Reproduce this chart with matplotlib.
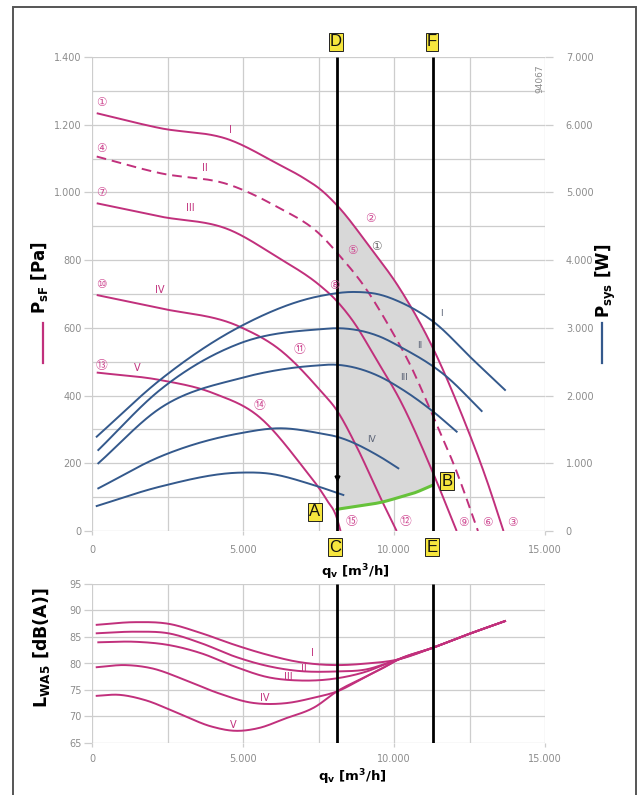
import numpy as np
import matplotlib
matplotlib.use('Agg')
import matplotlib.pyplot as plt
from matplotlib import font_manager
from matplotlib.ticker import FuncFormatter, MultipleLocator
from matplotlib.patches import Rectangle
from matplotlib.lines import Line2D

# ---------------- data ----------------
# fan pressure curves, q_v [m3/h] vs p_sF [Pa]
pI_x = [156, 2251, 4569, 6115, 7053, 7549, 8112, 9205, 10198, 11291, 12284, 13078, 13625]
pI_y = [1234, 1190, 1155, 1086, 1040, 1010, 962, 838, 715, 540, 335, 148, 0]
pII_x = [156, 2251, 4569, 6115, 7549, 8211, 8973, 9867, 10529, 11300, 12075, 12780]
pII_y = [1106, 1057, 1022, 958, 876, 812, 728, 600, 492, 338, 175, 0]
pIII_x = [156, 2251, 4569, 6115, 7549, 7990, 8642, 9426, 10198, 11300, 12075]
pIII_y = [968, 929, 889, 810, 725, 690, 620, 505, 387, 170, 0]
pIV_x = [156, 2251, 4900, 6225, 7549, 8102, 8764, 9536, 10088]
pIV_y = [697, 658, 603, 535, 416, 357, 249, 101, 0]
pV_x = [156, 2251, 4017, 5563, 6887, 7771, 8102, 8230]
pV_y = [468, 446, 407, 335, 200, 92, 40, 0]

# system power curves, q_v [m3/h] vs P_sys [W]
wI_x = [156, 2251, 4900, 7549, 8700, 9536, 10198, 11300, 12625, 13675]
wI_y = [1393, 2230, 3018, 3470, 3530, 3490, 3382, 3092, 2526, 2083]
wII_x = [209, 2251, 4900, 7549, 8212, 9536, 10198, 11743, 12902]
wII_y = [1196, 2083, 2772, 2979, 2994, 2870, 2722, 2279, 1772]
wIII_x = [209, 2251, 4900, 7328, 8102, 9536, 10198, 11300, 12075]
wIII_y = [1000, 1812, 2255, 2440, 2455, 2279, 2112, 1762, 1467]
wIV_x = [209, 2251, 4900, 6225, 7549, 8102, 9536, 10143]
wIV_y = [630, 1097, 1443, 1517, 1443, 1393, 1097, 926]
wV_x = [156, 2251, 4900, 5784, 7328, 8322]
wV_y = [369, 655, 862, 852, 680, 532]

# green boundary A-B  [W]
g_x = [8100, 9000, 9536, 10198, 10638, 11300]
g_y = [320, 380, 420, 500, 557, 680]

# operating limits (C-D and E-F)
line_x = [8100, 11300]

# sound power level curves, q_v [m3/h] vs L_WA5 [dB(A)]
lI_x = [156, 1424, 2526, 3632, 4735, 5837, 6831, 8102, 9095, 10088, 11300, 12400, 13675]
lI_y = [87.3, 87.8, 87.5, 85.7, 83.5, 81.6, 80.3, 79.7, 80.0, 80.7, 83.0, 85.4, 88.0]
lII_x = [156, 1424, 2526, 3632, 4735, 5837, 6831, 8102, 9095, 9900, 11300, 12400, 13675]
lII_y = [85.7, 86.0, 85.7, 83.8, 81.3, 79.5, 78.6, 78.5, 78.9, 80.3, 83.0, 85.4, 88.0]
lIII_x = [209, 1424, 2526, 3632, 4735, 5837, 6831, 8102, 9095, 9900, 11300, 12400, 13675]
lIII_y = [84.0, 84.1, 83.5, 81.9, 79.4, 77.4, 76.8, 77.2, 78.5, 80.3, 83.0, 85.4, 88.0]
lIV_x = [156, 1093, 1976, 3079, 4183, 5287, 6390, 7384, 8102, 9095, 9646, 10088, 11300, 12400, 13675]
lIV_y = [79.3, 79.7, 79.1, 76.9, 74.4, 72.6, 72.5, 73.6, 74.7, 77.6, 79.2, 80.6, 83.0, 85.4, 88.0]
lV_x = [156, 872, 1755, 2858, 3962, 4735, 5506, 6390, 7384, 8102, 9095, 9646, 10088, 11300, 12400, 13675]
lV_y = [73.9, 74.1, 73.1, 70.6, 68.1, 67.3, 67.8, 69.6, 71.8, 74.7, 77.6, 79.2, 80.6, 83.0, 85.4, 88.0]

roman = ['I', 'II', 'III', 'IV', 'V']
x_ticks = [0, 5000, 10000, 15000]
p_ticks = [0, 200, 400, 600, 800, 1000, 1200, 1400]
w_ticks = [0, 1000, 2000, 3000, 4000, 5000, 6000, 7000]
l_ticks = [65, 70, 75, 80, 85, 90, 95]

# ---------------- style ----------------
names = {f.name for f in font_manager.fontManager.ttflist}
FAM = 'Liberation Sans Narrow' if 'Liberation Sans Narrow' in names else 'DejaVu Sans'
NARROW = FAM != 'DejaVu Sans'
plt.rcParams['font.family'] = [FAM, 'DejaVu Sans']
plt.rcParams['mathtext.fontset'] = 'custom'
plt.rcParams['mathtext.rm'] = FAM
plt.rcParams['mathtext.bf'] = FAM + ':bold'
plt.rcParams['mathtext.it'] = FAM + ':italic'

MAG = '#c1307c'
BLUE = '#34598c'
GREEN = '#66c23a'
GRID = '#cdcdcd'
TICKC = '#8c8c8c'
YEL = '#f6e63e'
GRAYFILL = '#d8d8d8'

W, H = 642, 795


def fx(px):
    return px / W


def fy(py):
    return 1 - py / H


def smooth(x, y, n=300):
    """Cubic Hermite curve with three-point slopes through the read points (drawing only)."""
    x = np.asarray(x, float)
    y = np.asarray(y, float)
    h = np.diff(x)
    d = np.diff(y) / h
    m = np.zeros(len(x))
    m[0], m[-1] = d[0], d[-1]
    for k in range(1, len(x) - 1):
        m[k] = (d[k - 1] * h[k] + d[k] * h[k - 1]) / (h[k - 1] + h[k])
    xs = np.linspace(x[0], x[-1], n)
    idx = np.clip(np.searchsorted(x, xs) - 1, 0, len(x) - 2)
    t = (xs - x[idx]) / h[idx]
    h00 = 2 * t**3 - 3 * t**2 + 1
    h10 = t**3 - 2 * t**2 + t
    h01 = -2 * t**3 + 3 * t**2
    h11 = t**3 - t**2
    ys = h00 * y[idx] + h10 * h[idx] * m[idx] + h01 * y[idx + 1] + h11 * h[idx] * m[idx + 1]
    return xs, ys


def thousands(v, pos):
    return f'{int(round(v)):,}'.replace(',', '.')


fig = plt.figure(figsize=(W / 100, H / 100), dpi=100)

# outer frame
fig.add_artist(Rectangle((fx(13), fy(810)), fx(636) - fx(13), fy(7) - fy(810),
                         transform=fig.transFigure, fill=False, ec='#555555', lw=1.4))

# ---------------- top chart ----------------
ax = fig.add_axes([fx(92), fy(531), fx(545) - fx(92), fy(57) - fy(531)])
ax.set_xlim(0, 15000)
ax.set_ylim(0, 1400)
ax2 = ax.twinx()
ax2.set_ylim(0, 7000)
for a in (ax, ax2):
    for s in a.spines.values():
        s.set_visible(False)
ax.set_axisbelow(True)
ax.set_xticks(x_ticks)
ax.xaxis.set_minor_locator(MultipleLocator(2500))
ax.set_yticks(p_ticks)
ax.yaxis.set_minor_locator(MultipleLocator(100))
ax2.set_yticks(w_ticks)
ax.grid(True, which='both', color=GRID, lw=0.9)
lsz = 7.8 if NARROW else 7
ax.xaxis.set_major_formatter(FuncFormatter(thousands))
ax.yaxis.set_major_formatter(FuncFormatter(thousands))
ax2.yaxis.set_major_formatter(FuncFormatter(thousands))
ax.tick_params(axis='y', which='major', length=6, width=0.9, color=GRID,
               labelsize=lsz, labelcolor=TICKC, pad=1.5)
ax.tick_params(axis='x', which='major', length=3, width=0.9, color=GRID,
               labelsize=lsz, labelcolor=TICKC, pad=7)
ax.tick_params(which='minor', length=0)
ax2.tick_params(axis='y', which='major', length=6, width=0.9, color=GRID,
                labelsize=lsz, labelcolor=TICKC, pad=9)

# grey operating area
xs = np.linspace(line_x[0], line_x[1], 200)
sx, sy = smooth(pI_x, pI_y, 600)
upper = np.interp(xs, sx, sy)
gx, gy = smooth(g_x, g_y, 200)
lower = np.interp(xs, gx, gy) / 5.0
ax.fill_between(xs, lower, upper, color=GRAYFILL, lw=0, zorder=1)

# pressure curves
for (cx, cy), ls in zip([(pI_x, pI_y), (pII_x, pII_y), (pIII_x, pIII_y),
                          (pIV_x, pIV_y), (pV_x, pV_y)],
                         ['-', (0, (5, 3)), '-', '-', '-']):
    X, Y = smooth(cx, cy)
    ax.plot(X, Y, color=MAG, lw=1.4, ls=ls, zorder=3, solid_capstyle='butt')

# power curves
for cx, cy in [(wI_x, wI_y), (wII_x, wII_y), (wIII_x, wIII_y), (wIV_x, wIV_y), (wV_x, wV_y)]:
    X, Y = smooth(cx, cy)
    ax2.plot(X, Y, color=BLUE, lw=1.4, zorder=3)

X, Y = smooth(g_x, g_y)
ax2.plot(X, Y, color=GREEN, lw=2.2, zorder=4, solid_capstyle='round')
ax2.vlines(line_x, 0, 7000, colors='k', lw=2.0, zorder=6)
ax2.plot([line_x[0]], [790], marker='v', ms=3.5, color='k', zorder=7)

# ---------------- bottom chart ----------------
axb = fig.add_axes([fx(92), fy(743), fx(545) - fx(92), fy(584) - fy(743)])
axb.set_xlim(0, 15000)
axb.set_ylim(65, 95)
for s in axb.spines.values():
    s.set_visible(False)
axb.set_axisbelow(True)
axb.set_xticks(x_ticks)
axb.xaxis.set_minor_locator(MultipleLocator(2500))
axb.set_yticks(l_ticks)
axb.grid(True, which='both', color=GRID, lw=0.9)
axb.xaxis.set_major_formatter(FuncFormatter(thousands))
axb.tick_params(axis='y', which='major', length=6, width=0.9, color=GRID,
                labelsize=lsz, labelcolor=TICKC, pad=1.5)
axb.tick_params(axis='x', which='major', length=3, width=0.9, color=GRID,
                labelsize=lsz, labelcolor=TICKC, pad=5)
axb.tick_params(which='minor', length=0)
for cx, cy in [(lV_x, lV_y), (lIV_x, lIV_y), (lIII_x, lIII_y), (lII_x, lII_y), (lI_x, lI_y)]:
    X, Y = smooth(cx, cy)
    axb.plot(X, Y, color=MAG, lw=1.4, zorder=3)
axb.vlines(line_x, 65, 95, colors='k', lw=2.0, zorder=6)

# ---------------- annotations ----------------
CIRC = ['①', '②', '③', '④', '⑤', '⑥', '⑦', '⑧', '⑨', '⑩', '⑪', '⑫', '⑬', '⑭', '⑮']
circ_pos = [(101, 103), (370, 218), (512, 522), (101, 148), (352, 250), (487, 522),
            (101, 193), (334, 286), (463, 522), (101, 285), (300, 349), (406, 522),
            (101, 365), (260, 406), (351, 522)]
for s, (px, py) in zip(CIRC, circ_pos):
    fig.text(fx(px), fy(py), s, color='#cf4b93', fontsize=8.5, ha='center', va='center',
             family=['DejaVu Sans', 'Noto Sans CJK JP'])
fig.text(fx(376), fy(246), '①', color='#666666', fontsize=8.5, ha='center', va='center',
         family=['DejaVu Sans', 'Noto Sans CJK JP'])

rsz = 7.5 if NARROW else 7
for s, (px, py) in zip(roman, [(230, 130), (205, 168), (190, 208), (160, 290), (137, 368)]):
    fig.text(fx(px), fy(py), s, color=MAG, fontsize=rsz, ha='center', va='center')
for s, (px, py) in zip(roman[:4], [(441, 313), (420, 346), (404, 378), (371, 440)]):
    fig.text(fx(px), fy(py), s, color='#5a6275', fontsize=rsz - 0.5, ha='center', va='center')
for s, (px, py) in zip(roman, [(312, 653), (304, 669), (288, 677), (265, 698), (233, 725)]):
    fig.text(fx(px), fy(py), s, color=MAG, fontsize=rsz, ha='center', va='center')

fig.text(fx(540), fy(79), '94067', color='#8c8c8c', fontsize=6.5, rotation=90,
         ha='center', va='center')

for s, (px, py) in zip(['D', 'F', 'A', 'B', 'C', 'E'],
                       [(336, 42), (432, 42), (315, 512), (447, 481), (335, 547), (432, 547)]):
    fig.text(fx(px), fy(py), s, fontsize=13 if NARROW else 12, ha='center', va='center',
             color='#111111', family=['Liberation Sans', 'DejaVu Sans'],
             bbox=dict(boxstyle='square,pad=0.08', fc=YEL, ec='#222222', lw=0.7), zorder=10)

big = 15 if NARROW else 12
mid = 12 if NARROW else 9.5
fig.text(fx(40), fy(278), r'P$_\mathbf{sF}$ [Pa]', rotation=90, fontsize=big,
         fontweight='bold', ha='center', va='center')
fig.add_artist(Line2D([fx(43), fx(43)], [fy(323), fy(363)], color=MAG, lw=1.6))
fig.text(fx(606), fy(281), r'P$_\mathbf{sys}$ [W]', rotation=90, fontsize=big,
         fontweight='bold', ha='center', va='center')
fig.add_artist(Line2D([fx(602), fx(602)], [fy(323), fy(363)], color=BLUE, lw=1.6))
fig.text(fx(42), fy(648), r'L$_\mathbf{WA5}$ [dB(A)]', rotation=90, fontsize=big + 0.5,
         fontweight='bold', ha='center', va='center')
fig.text(fx(355), fy(572), r'q$_\mathbf{v}$ [m$^\mathbf{3}$/h]', fontsize=mid,
         fontweight='bold', ha='center', va='center')
fig.text(fx(352), fy(777), r'q$_\mathbf{v}$ [m$^\mathbf{3}$/h]', fontsize=mid,
         fontweight='bold', ha='center', va='center')

fig.savefig('out.png', dpi=100)
